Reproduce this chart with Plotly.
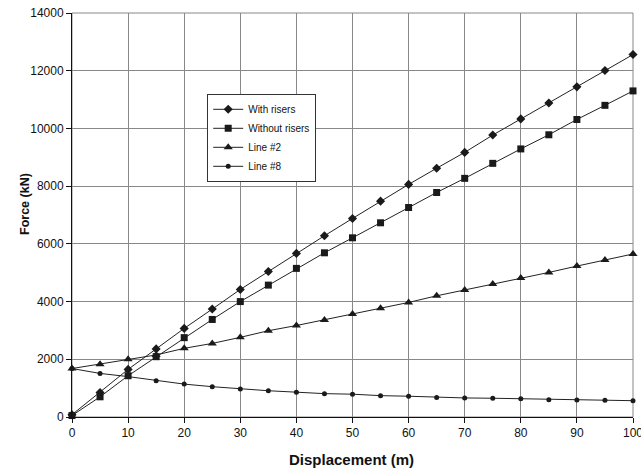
import plotly.graph_objects as go

displacement = [0, 5, 10, 15, 20, 25, 30, 35, 40, 45, 50, 55, 60, 65, 70, 75, 80, 85, 90, 95, 100]
with_risers = [80, 850, 1650, 2360, 3070, 3740, 4420, 5040, 5670, 6280, 6880, 7480, 8060, 8620, 9170, 9770, 10330, 10880, 11440, 12010, 12560]
without_risers = [50, 700, 1430, 2090, 2750, 3380, 4000, 4570, 5150, 5690, 6210, 6730, 7260, 7780, 8270, 8790, 9290, 9780, 10310, 10800, 11300]
line_2 = [1680, 1830, 2000, 2150, 2380, 2550, 2760, 2990, 3170, 3360, 3570, 3770, 3970, 4200, 4400, 4610, 4820, 5010, 5230, 5440, 5650]
line_8 = [1680, 1510, 1400, 1260, 1140, 1050, 970, 910, 860, 810, 790, 740, 720, 680, 660, 650, 630, 600, 590, 580, 565]

x_ticks = list(range(0, 101, 10))
y_ticks = list(range(0, 14001, 2000))

series = [
    ("With risers", with_risers, "diamond", 7),
    ("Without risers", without_risers, "square", 7),
    ("Line #2", line_2, "triangle-up", 8),
    ("Line #8", line_8, "circle", 5),
]

fig = go.Figure()
for name, vals, sym, sz in series:
    fig.add_trace(go.Scatter(
        x=displacement, y=vals, name=name, mode="lines+markers",
        line=dict(color="#222222", width=1),
        marker=dict(symbol=sym, size=sz, color="#1a1a1a"),
        cliponaxis=False,
    ))

fig.update_layout(
    width=641, height=472,
    margin=dict(l=72, r=8, t=13, b=55, autoexpand=False),
    paper_bgcolor="white", plot_bgcolor="white",
    font=dict(family="Liberation Sans, Arial, sans-serif", size=11, color="#111111"),
    showlegend=True,
    legend=dict(
        x=0.241, y=0.80, xanchor="left", yanchor="top",
        bgcolor="white", bordercolor="#333333", borderwidth=1,
        font=dict(size=10), tracegroupgap=0, itemwidth=30,
    ),
    shapes=[
        dict(type="rect", xref="paper", yref="paper", x0=0, x1=1, y0=0, y1=1,
             line=dict(color="#888888", width=1), layer="below"),
    ],
    annotations=[
        dict(text="<b>Displacement (m)</b>", xref="paper", yref="paper",
             x=0.498, y=-0.104, xanchor="center", yanchor="middle",
             showarrow=False, font=dict(size=15)),
        dict(text="<b>Force (kN)</b>", xref="paper", yref="paper",
             x=-0.084, y=0.527, xanchor="center", yanchor="middle",
             textangle=-90, showarrow=False, font=dict(size=12.5)),
    ],
)

fig.update_xaxes(
    range=[0, 100], tickvals=x_ticks, ticktext=[str(t) for t in x_ticks],
    showgrid=True, gridcolor="#888888", gridwidth=1,
    showline=True, linecolor="#111111", linewidth=1,
    ticks="outside", ticklen=5, tickcolor="#111111",
    zeroline=False, tickfont=dict(size=12), automargin=False,
    ticklabeloverflow="allow",
)
fig.update_yaxes(
    range=[0, 14000], tickvals=y_ticks, ticktext=[str(t) for t in y_ticks],
    showgrid=True, gridcolor="#888888", gridwidth=1,
    showline=True, linecolor="#111111", linewidth=1,
    ticks="outside", ticklen=5, tickcolor="#111111",
    zeroline=False, tickfont=dict(size=12), automargin=False,
    ticklabeloverflow="allow",
)

# remove the page's default body margin so the figure fills the window exactly
fig.write_html(
    "out.html",
    config={"displayModeBar": False},
    post_script="document.body.style.margin='0px';document.body.style.overflow='hidden';",
)
